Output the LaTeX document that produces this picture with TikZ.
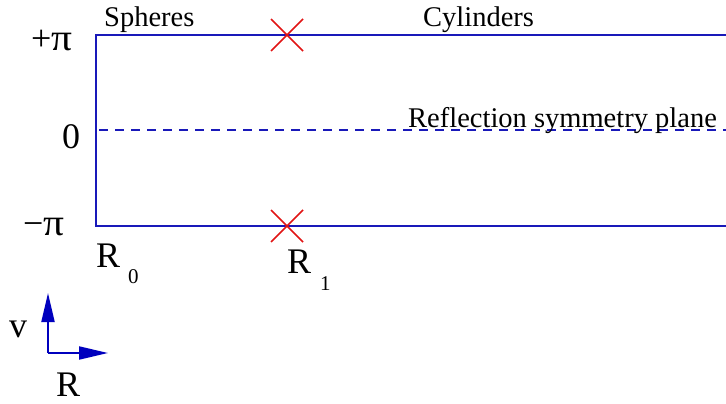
\documentclass[tikz,border=0pt]{standalone}
\usepackage{fontspec}
\setmainfont{Liberation Serif}
\usetikzlibrary{arrows.meta,calc}
\definecolor{lineblue}{RGB}{25,25,185}
\definecolor{axisblue}{RGB}{0,0,190}
\definecolor{crossred}{RGB}{225,20,20}
\tikzset{
  boxline/.style={draw=lineblue, line width=2pt},
  dashline/.style={draw=lineblue, line width=1.6pt, dash pattern=on 9pt off 7pt, dash phase=-3pt},
  crossline/.style={draw=crossred, line width=1.5pt},
  axisline/.style={draw=axisblue, fill=axisblue, line width=2pt, -{Triangle[length=29pt,width=13pt]}},
  lbl/.style={inner sep=0pt, anchor=base west, font=\fontsize{28.5}{30}\selectfont},
  big/.style={inner sep=0pt, anchor=base west, font=\fontsize{36}{38}\selectfont},
  sub/.style={inner sep=0pt, anchor=base west, font=\fontsize{21}{23}\selectfont}
}
\begin{document}
\begin{tikzpicture}[x=1pt,y=-1pt]
\useasboundingbox (0,0) rectangle (726,404);
% frame coordinates
\coordinate (tl) at (96,35);
\coordinate (tr) at (726,35);
\coordinate (bl) at (96,226);
\coordinate (br) at (726,226);
\coordinate (ml) at (96,130);
\coordinate (mr) at (726,130);
\draw[boxline] (tr) -- (tl) -- (bl) -- (br);
\draw[dashline] (ml) -- (mr);
% crosses
\coordinate (ct) at (287,35);
\coordinate (cb) at (287,226);
\foreach \c in {ct,cb}{
  \draw[crossline] ($(\c)+(-16,-16)$) -- ($(\c)+(16,16)$);
  \draw[crossline] ($(\c)+(-16,16)$) -- ($(\c)+(16,-16)$);
}
% labels
\node[lbl] (sph) at (104,27) {Spheres};
\node[lbl] (cyl) at (423,27) {Cylinders};
\node[lbl] (refl) at (408,127) {Reflection symmetry plane};
\node[big] (pp) at (31,51) {+\scalebox{1.15}[1.05]{π}};
\node[big] (zero) at (62,148) {0};
\node[big] (mp) at (23,235) {−\scalebox{1.15}[1.05]{π}};
\node[big] (r0) at (96,267) {R};
\node[sub] (r0s) at (128,283) {0};
\node[big] (r1) at (287,273) {R};
\node[sub] (r1s) at (320,290) {1};
% axes
\coordinate (o) at (48,353);
\coordinate (vtip) at (48,293);
\coordinate (htip) at (108,353);
\draw[axisline] (o) -- (vtip);
\draw[axisline] (o) -- (htip);
\node[big] (vl) at (9,337) {v};
\node[big] (rl) at (56,396) {R};
\end{tikzpicture}
\end{document}
